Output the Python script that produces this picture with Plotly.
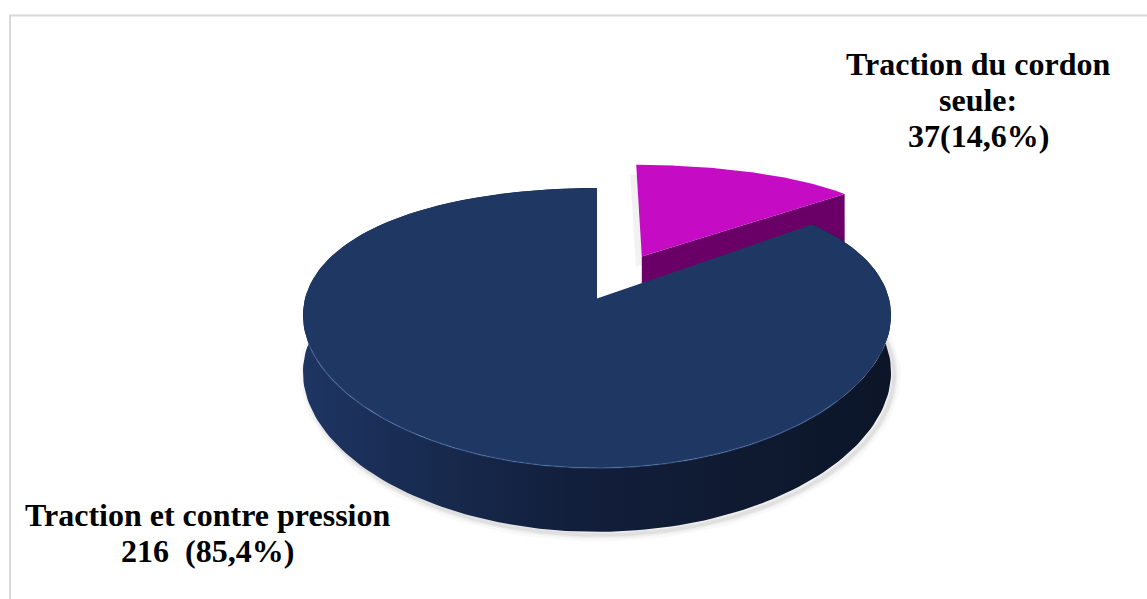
import numpy as np
import plotly.graph_objects as go

# ---------------- data ----------------
categories = ["Traction du cordon seule", "Traction et contre pression"]
counts = [37, 216]
label_heads = [["Traction du cordon", "seule:"], ["Traction et contre pression"]]
slice_colors = ["#C50BC4", "#1F3763"]
side_colors = ["#6A0067", "#1B3058"]

total = sum(counts)
pcts = [c / total * 100 for c in counts]
fmt = lambda p: f"{p:.1f}".replace(".", ",")
value_lines = [f"{counts[0]}({fmt(pcts[0])}%)", f"{counts[1]}\u00a0 ({fmt(pcts[1])}%)"]

# ---------------- geometry (pixel space) ----------------
W, Hh = 1147, 599
CX, CY, RX, RY = 597, 328, 292, 140
A, B = 0.21, 0.12          # simple perspective
H0, C = 56, 0.14           # extrusion depth
PULL = 0.36                # explode of small slice

def proj(u, v):
    return CX + RX * u * (1 + B * v), CY + RY * (v + A * (v * v - 1))

def depth(v):
    return H0 * (1 + C * v)

def rim(t0, t1, off=(0.0, 0.0), n=200):
    t = np.radians(np.linspace(t0, t1, n))
    return np.sin(t) + off[0], -np.cos(t) + off[1]

# slice angles from data (clockwise from 12 o'clock)
ang = np.cumsum([0] + [c / total * 360 for c in counts])
mid0 = np.radians((ang[0] + ang[1]) / 2)
off_small = (PULL * np.sin(mid0), -PULL * np.cos(mid0))

fig = go.Figure()

def poly(xs, ys, **kw):
    fig.add_trace(go.Scatter(x=xs, y=ys, mode="lines", fill="toself",
                             line=dict(width=0), hoverinfo="skip",
                             showlegend=False, **kw))

# ---- soft shadows ----
u, v = rim(ang[1] + 20, 345)
x, y = proj(u, v)
yb = y + depth(v)
for w, a in [(14, 0.025), (8, 0.04), (4, 0.06)]:
    fig.add_trace(go.Scatter(x=x + 3, y=yb + 3, mode="lines",
                             line=dict(color=f"rgba(0,0,0,{a})", width=w),
                             hoverinfo="skip", showlegend=False))

# ---- small slice ----
u, v = rim(ang[0], ang[1], off_small)
xr, yr = proj(u, v)
vx, vy = proj(off_small[0], off_small[1])
poly(np.r_[vx, xr, vx] - 6, np.r_[vy, yr, vy] + 10, fillcolor="rgba(0,0,0,0.05)")
ue, ve = u[-1], v[-1]
cx_, cy_ = proj(ue, ve)
d_v = depth(off_small[1])
d_c = depth(ve)
poly([vx, cx_, cx_, vx, vx], [vy, cy_, cy_ + d_c, vy + d_v, vy], fillcolor=side_colors[0])
poly(np.r_[vx, xr, vx], np.r_[vy, yr, vy], fillcolor=slice_colors[0])

# ---- big slice ----
u, v = rim(ang[1], ang[2])
xr, yr = proj(u, v)
ybr = yr + depth(v)
fig.add_trace(go.Scatter(
    x=np.r_[xr, xr[::-1]], y=np.r_[yr, ybr[::-1]], mode="lines", fill="toself",
    line=dict(width=0), hoverinfo="skip", showlegend=False,
    fillgradient=dict(type="horizontal",
                      colorscale=[[0, "#1E3563"], [0.2, "#182B50"], [0.45, "#121F3C"],
                                  [0.75, "#0F1A31"], [1, "#0C1528"]])))
bx, by = proj(0, 0)
poly(np.r_[bx, xr, bx], np.r_[by, yr, by], fillcolor=slice_colors[1])

# rim highlight on front edge
u, v = rim(130, 250)
x, y = proj(u, v)
fig.add_trace(go.Scatter(x=x, y=y, mode="lines",
                         line=dict(color="rgba(80,115,175,0.45)", width=1.5),
                         hoverinfo="skip", showlegend=False))

# ---------------- labels ----------------
FONT = dict(family="Liberation Serif", size=32, color="black", weight="bold")
ann = []
top_lines = label_heads[0] + [value_lines[0]]
for i, t in enumerate(top_lines):
    ann.append(dict(x=978, y=64 + 36 * i, text=t))
bot_lines = label_heads[1] + [value_lines[1]]
for i, t in enumerate(bot_lines):
    ann.append(dict(x=207, y=515 + 36 * i, text=t))
for a in ann:
    a.update(xref="x", yref="y", showarrow=False, xanchor="center", yanchor="middle", font=FONT)

fig.update_layout(
    width=W, height=Hh,
    margin=dict(l=0, r=0, t=0, b=0, pad=0),
    paper_bgcolor="white", plot_bgcolor="white",
    xaxis=dict(range=[0, W], visible=False, fixedrange=True),
    yaxis=dict(range=[Hh, 0], visible=False, fixedrange=True),
    annotations=ann,
    shapes=[dict(type="rect", xref="paper", yref="paper",
                 x0=10 / W, x1=1.02, y0=1 - 15.5 / Hh, y1=-0.05,
                 line=dict(color="#D9D9D9", width=2), fillcolor="rgba(0,0,0,0)", layer="below")],
)

fig.write_html("out.html",
               config={"displayModeBar": False},
               post_script="document.body.style.margin='0';document.body.style.overflow='hidden';")
